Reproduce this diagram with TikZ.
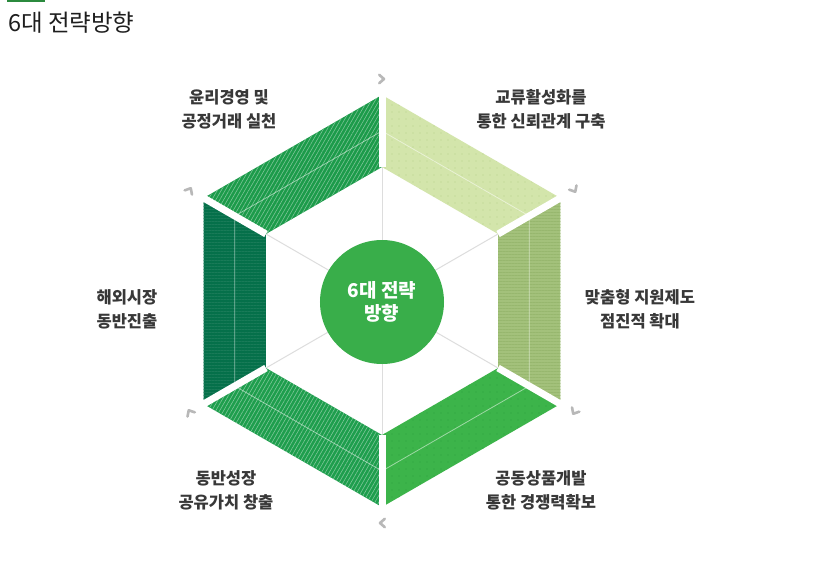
\documentclass[tikz,border=0pt]{standalone}
\usepackage{fontspec}
\setmainfont{Noto Sans CJK KR}
\usetikzlibrary{patterns.meta}
\definecolor{cTL}{HTML}{1C9B4A}
\definecolor{cTR}{HTML}{D3E5AB}
\definecolor{cTRd}{HTML}{B9D18C}
\definecolor{cR}{HTML}{A3C17B}
\definecolor{cRd}{HTML}{97B76E}
\definecolor{cBR}{HTML}{3CB44A}
\definecolor{cBRd}{HTML}{2EA13E}
\definecolor{cBL}{HTML}{1E9E4D}
\definecolor{cL}{HTML}{05704A}
\definecolor{cC}{HTML}{39AE4A}
\definecolor{cTxt}{HTML}{383838}
\definecolor{cTitle}{HTML}{1E1E1E}
\definecolor{cBar}{HTML}{2B8A3E}
\definecolor{cRay}{HTML}{DDDDDD}
\definecolor{cChev}{HTML}{B8B8B8}
\tikzset{
  lbl/.style={align=center, text=cTxt, font=\fontsize{16.5}{24}\selectfont\bfseries},
  hatch/.style={postaction={pattern={Lines[angle=60,distance=3.4pt,line width=0.6pt]}, pattern color=#1}},
  hlines/.style={postaction={pattern={Lines[angle=0,distance=3pt,line width=0.5pt]}, pattern color=#1}},
  dotted/.style={postaction={pattern={Dots[distance=7pt,radius=0.6pt]}, pattern color=#1}},
  gap/.style={white, line width=7pt},
  midline/.style={white, opacity=0.5, line width=0.8pt},
  ray/.style={cRay, line width=1pt},
  chev/.style={cChev, line width=2.6pt, line cap=round, line join=round}
}
\begin{document}
\begin{tikzpicture}[x=1pt,y=1pt]
\useasboundingbox (-382,-259) rectangle (434,301);
\fill[white] (-382,-259) rectangle (434,301);
% title
\fill[cBar] (-375,301) rectangle (-337,298.5);
\node[anchor=west, text=cTitle, font=\fontsize{23.5}{26}\selectfont, inner sep=0] (title) at (-374,278) {6대 전략방향};
% rays
\foreach \a in {90,30,-30,-90,-150,150} \draw[ray] (0,0) -- (\a:134);
% segments
\fill[cTL, hatch=cTL!58!white] (150:206) -- (90:206) -- (90:134) -- (150:134) -- cycle;
\fill[cTR, dotted=cTRd] (90:206) -- (30:206) -- (30:134) -- (90:134) -- cycle;
\fill[cR, hlines=cRd] (30:206) -- (-30:206) -- (-30:134) -- (30:134) -- cycle;
\fill[cBR, dotted=cBRd] (-30:206) -- (-90:206) -- (-90:134) -- (-30:134) -- cycle;
\fill[cBL, hatch=cBL!58!white] (-90:206) -- (-150:206) -- (-150:134) -- (-90:134) -- cycle;
\fill[cL, hlines=cL!92!white] (-150:206) -- (150:206) -- (150:134) -- (-150:134) -- cycle;
% mid lines
\draw[midline] (90:170) -- (30:170) -- (-30:170) -- (-90:170) -- (-150:170) -- (150:170) -- cycle;
% gaps
\foreach \a in {90,30,-30,-90,-150,150} \draw[gap] (\a:134) -- (\a:214);
% chevrons
\foreach \a in {90,30,-30,-90,-150,150}
  \draw[chev, shift={(\a:222)}, rotate=\a-90] (-2.8,4.2) -- (2,0) -- (-2.8,-4.2);
% center
\node[circle, fill=cC, minimum size=124pt, inner sep=0, text=white, align=center,
      font=\fontsize{19}{23}\selectfont\bfseries] (c) at (0,-1) {6대 전략\\방향};
% labels
\node[lbl] (tl) at (-153,192) {윤리경영 및\\공정거래 실천};
\node[lbl] (tr) at (159,192) {교류활성화를\\통한 신뢰관계 구축};
\node[lbl] (r) at (258,-8) {맞춤형 지원제도\\점진적 확대};
\node[lbl] (br) at (159,-189) {공동상품개발\\통한 경쟁력확보};
\node[lbl] (bl) at (-156,-189) {동반성장\\공유가치 창출};
\node[lbl] (l) at (-255,-8) {해외시장\\동반진출};
\end{tikzpicture}
\end{document}
